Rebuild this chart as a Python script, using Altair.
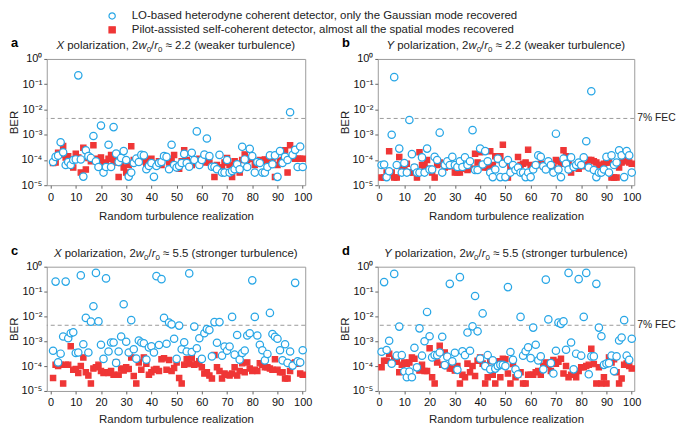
import altair as alt
import pandas as pd

N = list(range(1, 101))

# log10(BER), realizations 1..100
a_lo = [-4.08, -3.88, -3.83, -3.30, -3.70, -4.20, -4.08, -4.20, -4.00, -3.98,
        -0.65, -3.98, -4.66, -3.62, -3.85, -3.92, -3.05, -4.05, -4.28, -2.64,
        -4.50, -4.28, -3.40, -4.28, -2.70, -3.75, -4.08, -3.92, -3.65, -4.00,
        -4.66, -4.50, -4.12, -3.95, -4.08, -3.80, -3.82, -4.37, -4.24, -4.12,
        -4.67, -4.24, -4.12, -4.08, -3.85, -3.88, -4.37, -3.40, -4.20, -4.30,
        -4.24, -4.12, -3.76, -4.12, -4.27, -3.72, -4.00, -2.87, -4.20, -4.00,
        -3.79, -3.15, -3.85, -4.27, -4.27, -4.37, -3.80, -4.50, -4.50, -4.00,
        -4.50, -4.44, -4.37, -4.17, -4.37, -3.48, -3.98, -4.28, -3.56, -3.85,
        -4.50, -4.08, -4.12, -4.50, -4.50, -4.28, -3.82, -4.17, -3.82, -4.67,
        -3.65, -4.12, -3.88, -4.00, -2.11, -3.80, -3.60, -4.28, -3.47, -4.28]
a_pilot = [-4.12, -4.10, -3.72, -3.78, -3.45, -3.90, -3.85, -4.00, -4.30, -3.75,
           -3.90, -4.50, -3.52, -4.38, -3.92, -4.05, -3.42, -3.95, -4.05, -3.90,
           -4.10, -4.15, -3.95, -3.80, -4.00, -4.10, -4.68, -4.12, -4.30, -4.50,
           -4.20, -3.46, -4.00, -4.10, -4.05, -3.90, -4.05, -4.20, -4.00, -3.95,
           -4.15, -4.15, -4.05, -4.20, -3.85, -3.90, -4.10, -4.05, -3.80, -4.20,
           -4.35, -4.05, -3.62, -4.00, -4.10, -4.20, -3.98, -4.00, -3.95, -4.05,
           -4.10, -4.00, -4.10, -4.25, -4.68, -4.20, -4.30, -4.30, -4.10, -3.92,
           -4.20, -4.68, -4.05, -4.20, -4.50, -4.00, -3.78, -4.00, -3.95, -3.92,
           -4.20, -4.10, -4.00, -4.05, -3.98, -4.00, -4.05, -4.00, -4.68, -4.20,
           -4.05, -4.00, -3.62, -4.50, -3.42, -3.88, -3.95, -3.95, -3.95, -3.95]
b_lo = [-4.20, -4.18, -4.68, -4.45, -3.00, -0.72, -4.20, -3.55, -4.50, -4.12,
        -4.50, -2.42, -3.77, -4.30, -4.50, -4.50, -3.90, -4.50, -3.55, -4.38,
        -4.38, -3.88, -4.00, -2.92, -4.50, -4.20, -4.05, -4.20, -3.88, -4.20,
        -4.28, -4.05, -4.28, -3.90, -4.20, -4.05, -2.82, -4.40, -4.40, -3.55,
        -4.18, -3.65, -4.05, -4.50, -4.68, -4.38, -3.95, -4.68, -4.15, -4.68,
        -4.00, -4.50, -4.20, -4.40, -4.30, -4.50, -4.50, -4.68, -4.50, -4.68,
        -4.38, -4.20, -3.82, -3.88, -4.25, -4.38, -4.05, -4.20, -4.50, -2.96,
        -4.38, -4.68, -3.95, -4.15, -4.38, -3.90, -4.28, -4.20, -4.10, -4.20,
        -3.90, -3.26, -4.30, -1.28, -4.40, -4.68, -4.50, -4.50, -4.38, -3.88,
        -4.50, -3.82, -4.20, -4.10, -3.62, -3.82, -4.68, -3.65, -3.82, -4.50]
b_pilot = [-4.70, -4.70, -4.50, -3.66, -4.50, -4.70, -4.70, -3.88, -4.30, -4.25,
           -4.15, -4.50, -4.50, -4.30, -4.70, -3.70, -4.20, -4.25, -4.00, -4.35,
           -4.50, -4.70, -4.20, -4.10, -4.15, -4.30, -4.25, -4.25, -4.20, -4.50,
           -4.50, -4.50, -4.35, -4.35, -4.40, -4.35, -4.35, -3.75, -4.10, -3.70,
           -4.25, -4.30, -4.30, -3.66, -4.20, -3.85, -4.00, -3.85, -3.40, -4.10,
           -4.70, -4.35, -4.30, -4.30, -3.88, -4.20, -4.15, -4.10, -3.60, -4.20,
           -4.30, -4.20, -4.20, -4.15, -4.25, -4.20, -4.30, -4.20, -4.30, -4.00,
           -4.05, -4.15, -3.62, -3.85, -4.10, -4.50, -4.30, -4.20, -4.35, -4.20,
           -4.25, -4.20, -4.00, -4.00, -4.05, -4.10, -4.20, -4.20, -4.15, -4.10,
           -4.10, -4.70, -4.70, -4.70, -4.30, -4.10, -3.95, -4.05, -4.10, -4.15]
c_lo = [-3.38, -0.60, -3.85, -3.50, -2.81, -0.60, -2.88, -2.68, -2.64, -3.47,
        -3.45, -0.35, -3.12, -2.06, -3.45, -2.21, -1.59, -0.25, -2.20, -3.14,
        -3.71, -0.47, -3.41, -3.05, -3.05, -3.87, -3.41, -2.81, -1.51, -3.02,
        -3.45, -2.15, -3.32, -3.70, -2.97, -3.05, -3.08, -3.74, -3.25, -3.20,
        -3.45, -0.38, -3.15, -0.50, -2.06, -3.10, -2.25, -2.32, -2.90, -3.71,
        -2.37, -3.32, -3.04, -3.41, -0.27, -3.43, -2.41, -3.28, -2.88, -3.71,
        -2.68, -2.51, -2.55, -3.61, -2.23, -3.06, -2.23, -3.58, -3.21, -3.38,
        -3.21, -2.02, -3.54, -2.75, -3.74, -3.47, -3.37, -2.77, -2.68, -0.55,
        -2.02, -2.77, -3.14, -3.36, -3.77, -3.51, -1.86, -2.71, -2.82, -2.90,
        -3.36, -3.77, -3.12, -3.87, -3.41, -3.98, -0.65, -3.81, -3.85, -3.36]
c_pilot = [-4.48, -3.95, -4.00, -3.95, -4.70, -3.95, -3.95, -3.20, -4.15, -4.12,
           -4.28, -4.00, -3.65, -4.25, -4.38, -4.70, -4.10, -4.05, -3.95, -4.20,
           -4.28, -4.25, -4.28, -4.20, -4.35, -3.85, -4.35, -4.10, -4.18, -4.05,
           -4.12, -3.65, -4.40, -4.70, -3.85, -4.15, -3.65, -3.90, -4.35, -4.25,
           -4.15, -4.12, -4.20, -3.72, -3.68, -4.15, -3.75, -4.20, -4.08, -3.85,
           -4.48, -4.70, -3.95, -3.72, -3.92, -3.68, -3.95, -3.92, -3.80, -4.05,
           -4.30, -4.25, -4.38, -4.50, -3.55, -4.05, -4.20, -4.50, -4.30, -4.35,
           -4.38, -4.30, -4.05, -4.38, -4.20, -3.88, -4.25, -3.85, -4.10, -4.20,
           -4.15, -4.20, -3.88, -3.95, -4.05, -4.05, -4.10, -4.15, -3.72, -4.15,
           -4.25, -4.25, -4.50, -4.50, -4.20, -3.90, -3.85, -3.90, -4.30, -4.35]
d_lo = [-3.42, -0.62, -3.35, -2.98, -3.90, -0.29, -3.58, -2.41, -3.56, -4.22,
        -4.45, -4.22, -4.45, -3.26, -4.05, -2.48, -3.58, -3.00, -1.82, -2.80,
        -3.65, -3.56, -3.56, -3.45, -2.82, -3.96, -3.62, -0.69, -3.81, -3.46,
        -4.15, -0.42, -3.40, -3.56, -2.65, -3.38, -2.40, -1.18, -2.60, -3.70,
        -1.88, -4.00, -3.56, -4.13, -3.77, -4.10, -4.00, -3.95, -3.95, -4.00,
        -0.82, -3.43, -3.75, -4.13, -4.33, -2.02, -3.58, -3.40, -3.24, -3.68,
        -2.45, -3.14, -3.77, -3.61, -4.13, -0.52, -2.12, -3.88, -4.30, -3.38,
        -2.25, -2.30, -2.20, -3.34, -0.25, -3.05, -4.13, -3.50, -0.50, -3.58,
        -2.02, -0.25, -4.33, -3.61, -3.61, -0.69, -2.45, -2.80, -3.95, -3.90,
        -3.88, -3.58, -4.20, -3.61, -2.97, -2.85, -2.15, -3.58, -3.75, -2.90]
d_pilot = [-4.05, -3.78, -3.78, -3.50, -3.85, -3.70, -3.82, -4.25, -3.95, -3.85,
           -3.90, -3.85, -3.65, -3.70, -4.05, -4.18, -3.95, -4.20, -4.20, -3.28,
           -4.45, -4.70, -3.85, -3.18, -3.95, -3.45, -4.00, -4.10, -4.10, -4.18,
           -4.00, -4.70, -4.35, -4.45, -3.90, -4.25, -4.00, -4.40, -3.78, -3.65,
           -3.90, -4.70, -4.45, -3.80, -4.35, -4.70, -3.80, -4.45, -3.70, -3.72,
           -4.30, -4.70, -3.92, -4.45, -4.35, -4.25, -4.70, -4.70, -4.35, -4.35,
           -4.35, -4.25, -4.20, -4.35, -4.00, -3.85, -3.95, -4.20, -3.75, -3.90,
           -3.82, -3.70, -4.30, -4.00, -4.45, -4.35, -4.20, -4.45, -4.20, -4.05,
           -4.05, -4.00, -3.95, -3.30, -3.92, -4.70, -4.05, -4.70, -4.45, -4.70,
           -3.65, -3.85, -3.72, -4.25, -4.70, -4.50, -3.95, -3.90, -4.00, -4.10]

x_ticks = list(range(0, 101, 10))
y_ticks = [1e-5, 1e-4, 1e-3, 1e-2, 1e-1, 1]
FEC = 4.4e-3
FEC_LABEL = "7% FEC"
LO = "LO-based heterodyne coherent detector, only the Gaussian mode recovered"
PILOT = "Pilot-assisted self-coherent detector, almost all the spatial modes recovered"
DETS = [LO, PILOT]
pols = ["X", "Y", "X", "Y"]
ratios = ["\u2248 2.2 (weaker turbulence)", "\u2248 2.2 (weaker turbulence)",
          "\u2248 5.5 (stronger turbulence)", "\u2248 5.5 (stronger turbulence)"]
letters = ["a", "b", "c", "d"]

BLUE = "#27a6e6"
RED = "#ef3636"
FONT = "Liberation Sans"
TFS = 11.5   # title font size
SFS = 8      # subscript font size

# Arial / Liberation Sans advance widths (per 1000 em) for laying out the mixed-style titles
ADV = {' ': 278, 'p': 556, 'o': 556, 'l': 222, 'a': 556, 'r': 333, 'i': 222, 'z': 500,
       't': 278, 'n': 556, ',': 278, '2': 556, 'w': 722, '0': 556, '/': 278, '\u2248': 584,
       '.': 278, '5': 556, '(': 333, ')': 333, 'e': 556, 'k': 500, 'u': 556, 'b': 556,
       'c': 500, 's': 500, 'g': 556, 'X': 667, 'Y': 667}


def text_w(s, size):
    return sum(ADV.get(ch, 556) for ch in s) * size / 1000.0


EXP = ("datum.value > 0.5 ? '10\u2070' : datum.value > 0.05 ? '10\u207b\u00b9' : "
       "datum.value > 0.005 ? '10\u207b\u00b2' : datum.value > 0.0005 ? '10\u207b\u00b3' : "
       "datum.value > 0.00005 ? '10\u207b\u2074' : '10\u207b\u2075'")


def make_df(lo, pilot):
    return pd.DataFrame({
        "n": N + N,
        "det": [PILOT] * len(pilot) + [LO] * len(lo),
        "ber": [10 ** v for v in pilot] + [10 ** v for v in lo],
    })


def title_layers(pol, ratio, width, ybase):
    # (text, italic, size, dy); None = a plain space
    pieces = [(pol, True, TFS, 0), (None, False, TFS, 0), ("polarization, 2", False, TFS, 0),
              ("w", True, TFS, 0), ("0", False, SFS, 3), ("/", False, TFS, 0),
              ("r", True, TFS, 0), ("0", False, SFS, 3), (None, False, TFS, 0),
              (ratio, False, TFS, 0)]
    total = sum(text_w(t if t else ' ', s) for t, _, s, _ in pieces)
    x = width / 2.0 - total / 2.0
    out = []
    for t, ital, s, dy in pieces:
        if t:
            out.append(alt.Chart(pd.DataFrame({"t": [t]})).mark_text(
                align="left", baseline="alphabetic", font=FONT, fontSize=s,
                fontStyle="italic" if ital else "normal", color="#222").encode(
                x=alt.value(round(x, 2)), y=alt.value(ybase + dy), text="t:N"))
        x += text_w(t if t else ' ', s)
    return out


def panel(k, lo, pilot, xmin, width, height, legend, fec_text, xtp):
    df = make_df(lo, pilot)
    x = alt.X("n:Q", scale=alt.Scale(domain=[xmin, 101], nice=False, zero=False),
              axis=alt.Axis(values=x_ticks, title="Random turbulence realization",
                            labelPadding=3, titlePadding=xtp))
    y = alt.Y("ber:Q", scale=alt.Scale(type="log", domain=[1e-5, 1], nice=False),
              axis=alt.Axis(values=y_ticks, labelExpr=EXP, title="BER",
                            labelPadding=2, titlePadding=1, labelOverlap=False))
    if legend:
        leg = alt.Legend(orient="none", legendX=60, legendY=-49, title=None,
                         direction="vertical", labelFontSize=11.5, labelFont=FONT,
                         labelColor="#222", labelLimit=0, symbolSize=40,
                         symbolStrokeWidth=1.2, rowPadding=1, labelOffset=14,
                         padding=0, offset=0)
    else:
        leg = None
    pts = alt.Chart(df).mark_point(opacity=1, strokeWidth=1.25).encode(
        x=x, y=y,
        shape=alt.Shape("det:N", scale=alt.Scale(domain=DETS, range=["circle", "square"]), legend=leg),
        fill=alt.Fill("det:N", scale=alt.Scale(domain=DETS, range=["white", RED]), legend=leg),
        stroke=alt.Stroke("det:N", scale=alt.Scale(domain=DETS, range=[BLUE, RED]), legend=leg),
        size=alt.Size("det:N", scale=alt.Scale(domain=DETS, range=[55, 28]), legend=None),
    )
    rule = alt.Chart(pd.DataFrame({"ber": [FEC]})).mark_rule(
        strokeDash=[4, 3], color="#9a9a9a", strokeWidth=1).encode(y=y)
    lab = alt.Chart(pd.DataFrame({"t": [letters[k]]})).mark_text(
        align="left", baseline="middle", fontWeight="bold", fontSize=13, font=FONT,
        color="black").encode(x=alt.value(-36), y=alt.value(-16), text="t:N")
    layers = [rule, pts, lab] + title_layers(pols[k], ratios[k], width, -10)
    if fec_text:
        ft = alt.Chart(pd.DataFrame({"ber": [FEC], "t": [FEC_LABEL]})).mark_text(
            align="left", baseline="middle", fontSize=10.4, font=FONT, color="#222").encode(
            y=y, x=alt.value(width + 3), text="t:N")
        layers.append(ft)
    return alt.layer(*layers).properties(width=width, height=height)


pa = panel(0, a_lo, a_pilot, -1.5, 260, 127, True, False, 9)
pb = panel(1, b_lo, b_pilot, -0.5, 258, 127, False, True, 9)
pc = panel(2, c_lo, c_pilot, -1.5, 260, 125, False, False, 6)
pd_ = panel(3, d_lo, d_pilot, -0.5, 258, 125, False, True, 6)

chart = alt.concat(pa, pb, pc, pd_, columns=2, spacing={"row": 82, "column": 73},
                   bounds="flush").resolve_legend(
    shape="independent", fill="independent", stroke="independent"
).properties(padding=0).configure_view(
    stroke="#9b9b9b", strokeWidth=1
).configure_axis(
    labelFont=FONT, labelFontSize=11, labelColor="#111", titleFont=FONT,
    titleFontSize=11.5, titleFontWeight="normal", titleColor="#222",
    domain=False, grid=False, tickColor="#666", tickSize=3, tickWidth=1
)

chart.save("out.html", embed_options={"renderer": "svg", "actions": False})
